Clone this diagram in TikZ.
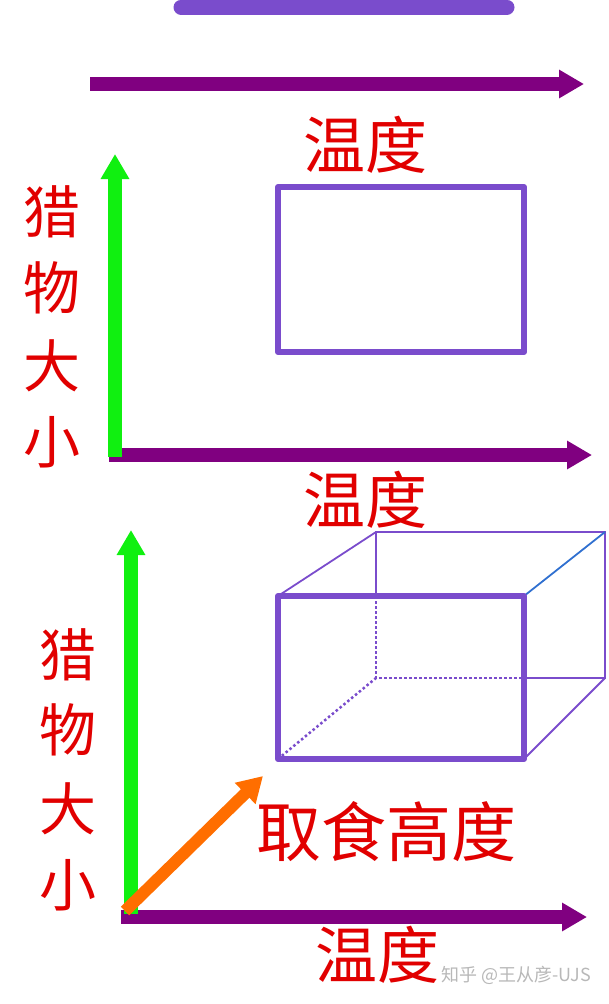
\documentclass[tikz,border=0pt]{standalone}
\usepackage{fontspec}
\newfontfamily\cjk{Noto Sans CJK SC}
\usetikzlibrary{arrows.meta}
\definecolor{boxpurple}{RGB}{122,76,204}
\definecolor{axpurple}{RGB}{128,0,128}
\definecolor{axgreen}{RGB}{16,240,16}
\definecolor{axorange}{RGB}{255,110,0}
\definecolor{txtred}{RGB}{225,0,0}
\definecolor{edgeblue}{RGB}{48,112,208}
\tikzset{
  axisarrow/.style={line width=13.5pt, -{Triangle[length=25pt,width=27pt]}},
  lbl/.style={text=txtred, inner sep=0pt, font=\cjk\fontsize{57}{60}\selectfont},
  xlbl/.style={lbl, font=\cjk\fontsize{62}{64}\selectfont},
  thickbox/.style={draw=boxpurple, line width=6pt, line join=round},
  thinedge/.style={draw=boxpurple, line width=1.8pt},
  dotedge/.style={draw=boxpurple, line width=2.5pt, dash pattern=on 2.5pt off 2.5pt},
  wm/.style={text=black!28, inner sep=0pt, font=\cjk\fontsize{18}{20}\selectfont}
}
\begin{document}
\begin{tikzpicture}[x=1pt,y=-1pt]
\useasboundingbox (0,0) rectangle (609,1004);
% top bar
\coordinate (barL) at (181,7);
\coordinate (barR) at (507,7);
\draw[boxpurple, line width=15pt, line cap=round] (barL) -- (barR);
% top arrow
\coordinate (a0s) at (90,84);
\coordinate (a0e) at (584,84);
\draw[axpurple, axisarrow] (a0s) -- (a0e);
\node[xlbl] (t0) at (365,145) {温度};

% chart 1
\coordinate (x1s) at (109,455);
\coordinate (x1e) at (592,455);
\coordinate (y1s) at (115,457);
\coordinate (y1e) at (115,154);
\draw[axpurple, axisarrow] (x1s) -- (x1e);
\draw[axgreen, axisarrow] (y1s) -- (y1e);
\node[lbl] (c1a) at (52,212) {猎};
\node[lbl] (c1b) at (52,288) {物};
\node[lbl] (c1c) at (52,366) {大};
\node[lbl] (c1d) at (52,442) {小};
\node[thickbox, minimum width=246pt, minimum height=165pt, inner sep=0pt] (r1) at (401,269.5) {};
\node[xlbl] (t1) at (365,500) {温度};

% chart 2
\coordinate (x2s) at (121,917);
\coordinate (x2e) at (587,917);
\coordinate (y2s) at (131,914);
\coordinate (y2e) at (131,530);
\coordinate (z2s) at (125,911);
\coordinate (z2e) at (263,776);
\draw[axpurple, axisarrow] (x2s) -- (x2e);
\draw[axgreen, axisarrow] (y2s) -- (y2e);
\draw[axorange, line width=12pt, -{Triangle[length=25pt,width=28pt]}] (z2s) -- (z2e);
\node[lbl] (c2a) at (68,655) {猎};
\node[lbl] (c2b) at (68,730) {物};
\node[lbl] (c2c) at (68,809) {大};
\node[lbl] (c2d) at (68,885) {小};
\node[lbl, font=\cjk\fontsize{65}{68}\selectfont] (t2z) at (386,832) {取食高度};
\node[xlbl] (t2x) at (377,955) {温度};

% cube
\coordinate (fTL) at (278,596);
\coordinate (fTR) at (524,596);
\coordinate (fBR) at (524,759);
\coordinate (fBL) at (278,759);
\coordinate (bTL) at (376,532);
\coordinate (bTR) at (605,532);
\coordinate (bBR) at (605,678);
\coordinate (bBL) at (376,678);
\coordinate (bLm) at (376,596);
\coordinate (bBm) at (524,678);
\draw[thinedge] (bLm) -- (bTL) -- (bTR) -- (bBR) -- (bBm);
\draw[thinedge] (fTL) -- (bTL);
\draw[thinedge] (fBR) -- (bBR);
\draw[edgeblue, line width=1.8pt] (fTR) -- (bTR);
\draw[dotedge] (bLm) -- (bBL) -- (bBm);
\draw[dotedge] (fBL) -- (bBL);
\draw[thickbox] (fTL) -- (fTR) -- (fBR) -- (fBL) -- cycle;

% watermark
\node[wm] (wmk) at (516,975) {知乎 @王从彦-UJS};
\end{tikzpicture}
\end{document}
